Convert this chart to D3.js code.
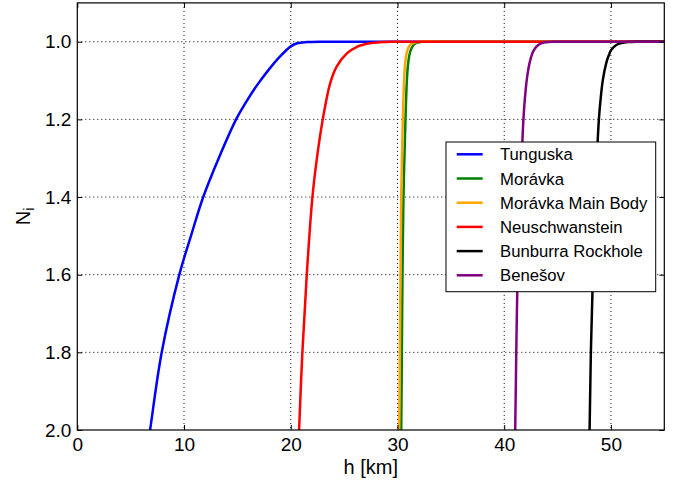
<!DOCTYPE html>
<html>
<head>
<meta charset="utf-8">
<script src="https://cdn.jsdelivr.net/npm/d3@7/dist/d3.min.js"></script>
<style>
  html, body { margin: 0; padding: 0; background: #fff; }
  svg { display: block; font-family: "Liberation Sans", Arial, Helvetica, sans-serif; }
</style>
</head>
<body>
<svg id="chart" width="684" height="484"></svg>
<script>
// Refractive-index profiles N_i against height h for several fireball events
const seriesNames = ["Tunguska", "Morávka", "Morávka Main Body", "Neuschwanstein", "Bunburra Rockhole", "Benešov"];
const seriesColors = ["#0000ff", "#008000", "#ffa500", "#ff0000", "#000000", "#800080"];

const tunguskaH = [6.55, 6.82, 7.91, 9.56, 10.65, 11.8, 13.25, 14.88, 16.0, 17.0, 18.0, 19.0, 20.0, 20.6, 21.5, 23.0, 25.0, 55];
const tunguskaN = [2.05, 2.0, 1.8, 1.6, 1.5, 1.4, 1.3, 1.2, 1.147, 1.106, 1.07, 1.038, 1.012, 1.004, 1.001, 1.0, 1.0, 1.0];

const moravkaH = [30.3, 30.35, 30.41, 30.47, 30.56, 30.65, 30.75, 30.88, 31.0, 31.2, 31.5, 31.8, 32.3, 34.0, 55];
const moravkaN = [2.05, 2.0, 1.8, 1.6, 1.4, 1.3, 1.2, 1.1, 1.056, 1.025, 1.0085, 1.003, 1.0, 1.0, 1.0];

const mainBodyH = [30.11, 30.16, 30.22, 30.28, 30.35, 30.42, 30.5, 30.62, 30.72, 30.9, 31.17, 31.5, 32.0, 34.0, 55];
const mainBodyN = [2.05, 2.0, 1.8, 1.6, 1.4, 1.3, 1.2, 1.1, 1.056, 1.025, 1.0085, 1.003, 1.0, 1.0, 1.0];

const neuschH = [20.72, 20.78, 21.09, 21.5, 22.03, 22.5, 23.0, 23.69, 24.3, 25.26, 26.2, 27.4, 28.3, 29.5, 31.0, 55];
const neuschN = [2.05, 2.0, 1.8, 1.6, 1.4, 1.29, 1.2, 1.107, 1.064, 1.03, 1.013, 1.004, 1.0015, 1.0, 1.0, 1.0];

const bunburraH = [47.95, 48.0, 48.12, 48.25, 48.45, 48.68, 48.87, 49.06, 49.25, 49.56, 49.8, 50.03, 50.5, 51.0, 51.6, 52.5, 54.0, 55];
const bunburraN = [2.05, 2.0, 1.8, 1.666, 1.45, 1.3, 1.2, 1.14, 1.097, 1.055, 1.035, 1.021, 1.0085, 1.0035, 1.001, 1.0, 1.0, 1.0];

const benesovH = [40.98, 41.03, 41.13, 41.22, 41.36, 41.5, 41.64, 41.8, 42.0, 42.2, 42.4, 42.7, 43.0, 43.4, 43.9, 44.6, 46.0, 55];
const benesovN = [2.05, 2.0, 1.8, 1.65, 1.5, 1.4, 1.3, 1.2, 1.127, 1.081, 1.052, 1.026, 1.013, 1.005, 1.0015, 1.0, 1.0, 1.0];

const xTicks = [0, 10, 20, 30, 40, 50];
const yTicks = [1.0, 1.2, 1.4, 1.6, 1.8, 2.0];

const seriesH = [tunguskaH, moravkaH, mainBodyH, neuschH, bunburraH, benesovH];
const seriesN = [tunguskaN, moravkaN, mainBodyN, neuschN, bunburraN, benesovN];

const margin = { left: 77.3, top: 2.9, right: 684 - 664.3, bottom: 484 - 430 };
const width = 684 - margin.left - margin.right;
const height = 484 - margin.top - margin.bottom;

const svg = d3.select("#chart");
const g = svg.append("g").attr("transform", `translate(${margin.left},${margin.top})`);

const x = d3.scaleLinear().domain([0, 55]).range([0, width]);
const y = d3.scaleLinear().domain([0.9, 2.0]).range([0, height]);

svg.append("defs").append("clipPath").attr("id", "plot-clip")
  .append("rect").attr("width", width).attr("height", height);

// dotted grid
const grid = g.append("g").attr("class", "grid");
grid.selectAll("line.gx").data(xTicks.filter(d => d > 0)).join("line")
  .attr("x1", d => x(d)).attr("x2", d => x(d)).attr("y1", 0).attr("y2", height)
  .attr("stroke", "#000").attr("stroke-width", 1).attr("stroke-dasharray", "1,3");
grid.selectAll("line.gy").data(yTicks.filter(d => d < 2.0)).join("line")
  .attr("x1", 0).attr("x2", width).attr("y1", d => y(d)).attr("y2", d => y(d))
  .attr("stroke", "#000").attr("stroke-width", 1).attr("stroke-dasharray", "1,3");

// curves
const line = d3.line().x(d => x(d[0])).y(d => y(d[1])).curve(d3.curveCatmullRom.alpha(0.5));
const curves = g.append("g").attr("clip-path", "url(#plot-clip)");
seriesNames.forEach((name, i) => {
  const pts = seriesH[i].map((h, k) => [h, seriesN[i][k]]);
  curves.append("path").datum(pts)
    .attr("d", line)
    .attr("fill", "none")
    .attr("stroke", seriesColors[i])
    .attr("stroke-width", 2.5)
    .attr("stroke-linejoin", "round");
});

// axes: inward ticks on all four sides
const tickLen = 5;
const fmt = d3.format(".1f");
const axisBottom = d3.axisBottom(x).tickValues(xTicks).tickSizeInner(-tickLen).tickSizeOuter(0).tickPadding(8);
const axisTop = d3.axisTop(x).tickValues(xTicks).tickSizeInner(-tickLen).tickSizeOuter(0).tickFormat("");
const axisLeft = d3.axisLeft(y).tickValues(yTicks).tickSizeInner(-tickLen).tickSizeOuter(0).tickPadding(6).tickFormat(fmt);
const axisRight = d3.axisRight(y).tickValues(yTicks).tickSizeInner(-tickLen).tickSizeOuter(0).tickFormat("");

function styleAxis(sel) {
  sel.select(".domain").remove();
  sel.selectAll(".tick line").attr("stroke", "#000").attr("stroke-width", 1);
  sel.selectAll(".tick text").attr("fill", "#000").attr("font-size", 19)
    .attr("font-family", "'Liberation Sans', Arial, sans-serif");
}
g.append("g").attr("transform", `translate(0,${height})`).call(axisBottom).call(styleAxis);
g.append("g").call(axisTop).call(styleAxis);
g.append("g").call(axisLeft).call(styleAxis);
g.append("g").attr("transform", `translate(${width},0)`).call(axisRight).call(styleAxis);

g.append("rect").attr("width", width).attr("height", height)
  .attr("fill", "none").attr("stroke", "#000").attr("stroke-width", 1.2);

// axis labels
svg.append("text")
  .attr("x", margin.left + width / 2).attr("y", 474)
  .attr("text-anchor", "middle").attr("font-size", 20).attr("fill", "#000")
  .text("h [km]");

const yl = svg.append("text")
  .attr("transform", `translate(30,${margin.top + height / 2}) rotate(-90)`)
  .attr("text-anchor", "middle").attr("font-size", 20).attr("fill", "#000");
yl.append("tspan").text("N");
yl.append("tspan").attr("font-size", 14).attr("dy", 4).text("i");

// legend
const legend = svg.append("g").attr("transform", "translate(446,142)");
legend.append("rect").attr("width", 209.7).attr("height", 149.7)
  .attr("fill", "#fff").attr("stroke", "#000").attr("stroke-width", 1);
seriesNames.forEach((name, i) => {
  const cy = 12.3 + i * 24.2;
  legend.append("line").attr("x1", 10.7).attr("x2", 36.7).attr("y1", cy).attr("y2", cy)
    .attr("stroke", seriesColors[i]).attr("stroke-width", 2.5);
  legend.append("text").attr("x", 54).attr("y", cy).attr("dy", "0.36em")
    .attr("font-size", 16.7).attr("fill", "#000").text(name);
});
</script>
</body>
</html>
